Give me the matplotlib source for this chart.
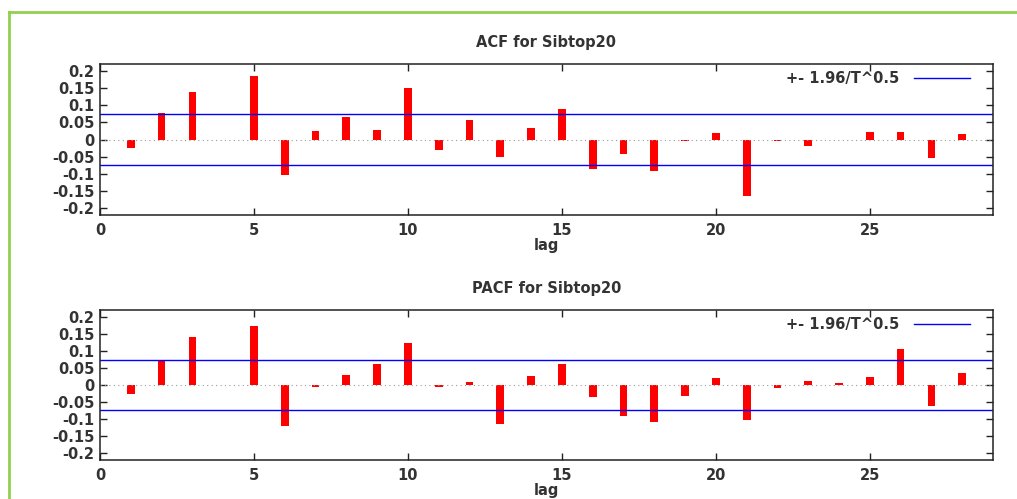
import matplotlib
matplotlib.use("Agg")
import matplotlib.pyplot as plt
from matplotlib.lines import Line2D

lags = list(range(1, 29))
acf_values = [-0.024, 0.077, 0.138, -0.002, 0.186, -0.103, 0.025, 0.065, 0.029, 0.150,
              -0.030, 0.056, -0.050, 0.033, 0.089, -0.087, -0.042, -0.093, -0.003, 0.020,
              -0.166, -0.003, -0.018, -0.001, 0.023, 0.023, -0.054, 0.017]
pacf_values = [-0.027, 0.073, 0.141, 0.001, 0.172, -0.120, -0.006, 0.030, 0.061, 0.124,
               -0.007, 0.009, -0.114, 0.025, 0.061, -0.036, -0.090, -0.109, -0.031, 0.020,
               -0.102, -0.009, 0.013, 0.007, 0.023, 0.106, -0.063, 0.036]
conf_band = 0.0735
titles = ["ACF for Sibtop20", "PACF for Sibtop20"]
legend_label = "+- 1.96/T^0.5"
ytick_vals = [0.2, 0.15, 0.1, 0.05, 0, -0.05, -0.1, -0.15, -0.2]
ytick_labels = ["0.2", "0.15", "0.1", "0.05", "0", "-0.05", "-0.1", "-0.15", "-0.2"]

plt.rcParams["font.family"] = ["DejaVu Sans"]
plt.rcParams["font.weight"] = "bold"
plt.rcParams["axes.titleweight"] = "bold"
plt.rcParams["axes.labelweight"] = "bold"
plt.rcParams["font.size"] = 10

txt_color = "#333333"

fig = plt.figure(figsize=(10.17, 4.99), dpi=100)
fig.patch.set_facecolor("white")

# light green frame around the picture
fig.add_artist(Line2D([9 / 1017, 9 / 1017], [0, 1 - 12 / 499], transform=fig.transFigure,
                      color="#92d050", lw=2))
fig.add_artist(Line2D([9 / 1017, 1], [1 - 12 / 499, 1 - 12 / 499], transform=fig.transFigure,
                      color="#92d050", lw=2))

positions = [[100 / 1017, 1 - 215 / 499, 893 / 1017, 151 / 499],
             [100 / 1017, 1 - 460 / 499, 893 / 1017, 150 / 499]]

for pos, vals, title in zip(positions, [acf_values, pacf_values], titles):
    ax = fig.add_axes(pos)
    ax.bar(lags, vals, width=0.25, color="red", edgecolor="none")
    ax.axhline(0, color="#999999", lw=0.8, linestyle=(0, (1, 3, 1, 3)))
    ax.axhline(conf_band, color="blue", lw=1, label=legend_label)
    ax.axhline(-conf_band, color="blue", lw=1)
    ax.set_xlim(0, 29)
    ax.set_ylim(-0.22, 0.22)
    ax.set_xticks([0, 5, 10, 15, 20, 25])
    ax.set_yticks(ytick_vals)
    ax.set_yticklabels(ytick_labels)
    ax.tick_params(direction="in", top=True, right=True, length=5, width=1,
                   labelsize=10.5, colors="#222222", labelcolor=txt_color)
    ax.tick_params(axis="y", pad=4)
    ax.tick_params(axis="x", pad=6)
    for s in ax.spines.values():
        s.set_color("#222222")
        s.set_linewidth(1.1)
    ax.set_title(title, fontsize=10.5, color=txt_color, pad=12)
    ax.set_xlabel("lag", fontsize=10.5, color=txt_color, labelpad=0)
    leg = ax.legend(loc="upper right", bbox_to_anchor=(0.982, 1.0), frameon=False,
                    fontsize=10.5, handlelength=3.8, markerfirst=False,
                    borderaxespad=0.1, handletextpad=1.0)
    for t in leg.get_texts():
        t.set_color(txt_color)

fig.savefig("out.png", dpi=100)
